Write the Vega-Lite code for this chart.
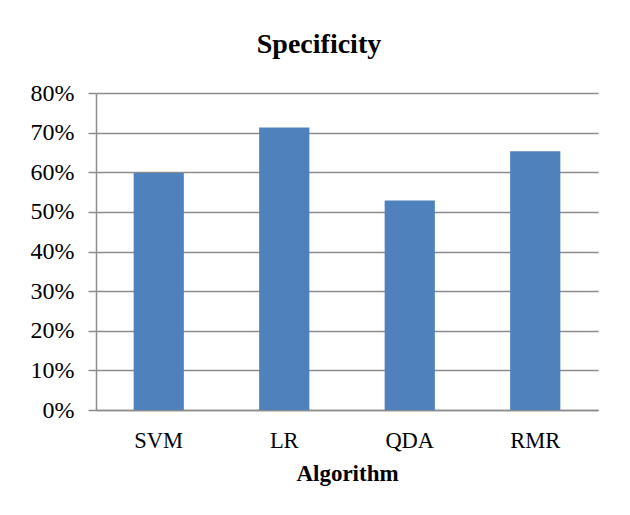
{
  "$schema": "https://vega.github.io/schema/vega-lite/v6.json",
  "autosize": "none",
  "width": 502,
  "height": 317,
  "padding": {"left": 96, "top": 93, "right": 32, "bottom": 105},
  "background": "white",
  "title": {
    "text": "Specificity",
    "font": "Liberation Serif",
    "fontSize": 28,
    "fontWeight": "bold",
    "color": "black",
    "anchor": "middle",
    "baseline": "alphabetic",
    "offset": 34,
    "dx": -28,
    "dy": 34
  },
  "data": {
    "values": [
      {"Algorithm": "SVM", "Specificity": 0.598},
      {"Algorithm": "LR", "Specificity": 0.713},
      {"Algorithm": "QDA", "Specificity": 0.529},
      {"Algorithm": "RMR", "Specificity": 0.653}
    ]
  },
  "mark": {"type": "bar", "color": "#4F81BD"},
  "encoding": {
    "x": {
      "field": "Algorithm",
      "type": "nominal",
      "sort": null,
      "scale": {"paddingInner": 0.6, "paddingOuter": 0.3},
      "axis": {
        "labelAngle": 0,
        "labelFont": "Liberation Serif",
        "labelFontSize": 22.5,
        "labelColor": "black",
        "labelPadding": 19,
        "ticks": false,
        "domainColor": "#8c8c8c",
        "domainWidth": 1.5,
        "title": "Algorithm",
        "titleFont": "Liberation Serif",
        "titleFontSize": 23,
        "titleFontWeight": "bold",
        "titleColor": "black",
        "titlePadding": 11
      }
    },
    "y": {
      "field": "Specificity",
      "type": "quantitative",
      "scale": {"domain": [0, 0.8]},
      "axis": {
        "values": [0, 0.1, 0.2, 0.3, 0.4, 0.5, 0.6, 0.7, 0.8],
        "format": ".0%",
        "title": null,
        "labelFont": "Liberation Serif",
        "labelFontSize": 24,
        "labelColor": "black",
        "labelPadding": 14,
        "tickSize": 8,
        "tickColor": "#8c8c8c",
        "tickWidth": 1.5,
        "domainColor": "#8c8c8c",
        "domainWidth": 1.5,
        "grid": true,
        "gridColor": "#8c8c8c",
        "gridWidth": 1.5
      }
    }
  },
  "config": {
    "view": {"stroke": null}
  }
}
